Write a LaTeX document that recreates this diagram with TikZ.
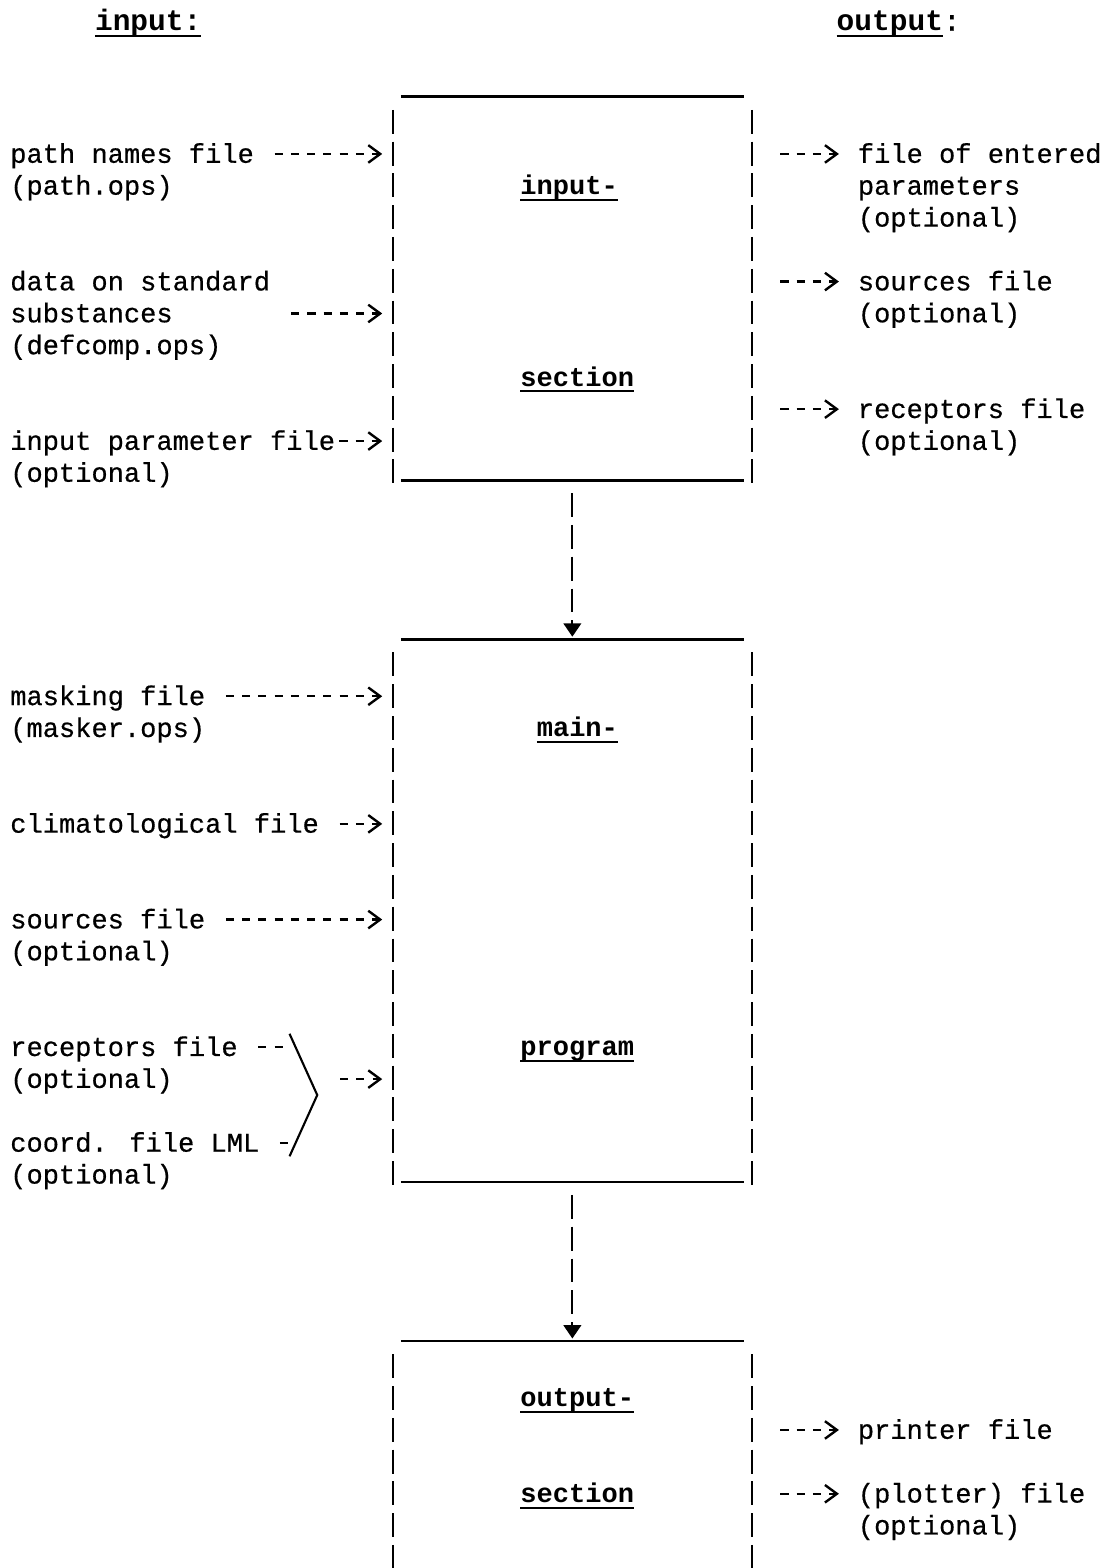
\documentclass[tikz,border=0pt]{standalone}
\usepackage{fontspec}
\setmainfont{Liberation Mono}[UprightFeatures={FakeBold=0.5}]
\usepackage{tikz}
\usetikzlibrary{arrows.meta,positioning,fit,calc}

\newcommand{\boxlabel}[1]{\setbox0\hbox{\bfseries #1}\rlap{\rule[-4.5pt]{\wd0}{1.6pt}}\box0}

\begin{document}
\begin{tikzpicture}[x=0.4075cm,y=-0.7975cm,
  font=\fontsize{19.25}{22.6}\selectfont,
  lbl/.style={anchor=mid west,inner sep=0pt,yshift=-3.6pt},
  ttl/.style={lbl,font=\fontsize{21}{24}\selectfont},
  area/.style={inner sep=0pt,draw=none},
  rim/.style={line width=1.8pt},
  side/.style={line width=1.6pt,dash pattern=on 17pt off 5.61pt},
  feed/.style={line width=1.7pt,dash pattern=on 5.78pt off 5.78pt,
               -{Straight Barb[length=8.5pt,width=12.5pt]}},
  infeed/.style={feed,shorten >=7.5pt},
  outfeed/.style={feed,shorten >=13.3pt},
  tick/.style={line width=1.7pt,dash pattern=on 5.78pt off 5.78pt},
  slash/.style={line width=1.5pt},
  drop/.style={line width=1.6pt,dash pattern=on 17pt off 5.61pt,
               -{Triangle[length=9.5pt,width=12.5pt]},shorten <=5.6pt,shorten >=1.8pt},
]
\useasboundingbox (-0.6135,-4.8276) rectangle (67.055,44.326);

% headings
\node[ttl] (t-in)  at (5.2,-4.14)  {\boxlabel{input:}};
\node[ttl] (t-out) at (50.7,-4.14) {\boxlabel{output}:};

% the three sections
\node[area,fit={(23.5,-1.79) (45.5,10.376)}] (inbox) {};
\node[area,fit={(23.5,15.22) (45.5,32.376)}] (mainbox) {};
\node[area,fit={(23.5,37.22) (45.5,44.5)}]   (outbox) {};
\foreach \b in {inbox,mainbox,outbox} {
  \draw[rim]  ($(\b.north west)+(0.5,0)$) -- ($(\b.north east)+(-0.5,0)$);
  \draw[side] ($(\b.north west)+(0,0.414)$) -- (\b.south west);
  \draw[side] ($(\b.north east)+(0,0.414)$) -- (\b.south east);
}
\foreach \b in {inbox,mainbox}
  \draw[rim] ($(\b.south west)+(0.5,-0.156)$) -- ($(\b.south east)+(-0.5,-0.156)$);

\node[lbl] (b-in1)  at (31.3,1)  {\boxlabel{input-}};
\node[lbl] (b-in2)  at (31.3,7)  {\boxlabel{section}};
\node[lbl] (b-mn1)  at (32.3,18) {\boxlabel{main-}};
\node[lbl] (b-mn2)  at (31.3,28) {\boxlabel{program}};
\node[lbl] (b-out1) at (31.3,39) {\boxlabel{output-}};
\node[lbl] (b-out2) at (31.3,42) {\boxlabel{section}};

\draw[drop] (inbox.south) -- (mainbox.north);
\draw[drop] (mainbox.south) -- (outbox.north);

% inputs
\node[lbl] (l-path)  at (0,0)  {path names file};
\node[lbl] (l-path2) at (0,1)  {(path.ops)};
\node[lbl] (l-data)  at (0,4)  {data on standard};
\node[lbl] (l-subs)  at (0,5)  {substances};
\node[lbl] (l-defc)  at (0,6)  {(defcomp.ops)};
\node[lbl] (l-ipar)  at (0,9)  {input parameter file};
\node[lbl] (l-ipar2) at (0,10) {(optional)};
\node[lbl] (l-mask)  at (0,17) {masking file};
\node[lbl] (l-mask2) at (0,18) {(masker.ops)};
\node[lbl] (l-clim)  at (0,21) {climatological file};
\node[lbl] (l-srcs)  at (0,24) {sources file};
\node[lbl] (l-srcs2) at (0,25) {(optional)};
\node[lbl] (l-rcpt)  at (0,28) {receptors file};
\node[lbl] (l-rcpt2) at (0,29) {(optional)};
\node[lbl] (l-lml)   at (0,31) {coord. file LML};
\node[lbl] (l-lml2)  at (0,32) {(optional)};

\draw[infeed] ($(l-path.mid east)+(1.25,-0.16)$) coordinate (a1) -- (a1 -| inbox.west);
\coordinate (subs-tail) at (17.25,5);
\draw[infeed] (subs-tail) -- (subs-tail -| inbox.west);
\draw[infeed] ($(l-ipar.mid east)+(0.25,-0.16)$) coordinate (a2) -- (a2 -| inbox.west);
\draw[infeed] ($(l-mask.mid east)+(1.25,-0.16)$) coordinate (a3) -- (a3 -| mainbox.west);
\draw[infeed] ($(l-clim.mid east)+(1.25,-0.16)$) coordinate (a4) -- (a4 -| mainbox.west);
\draw[infeed] ($(l-srcs.mid east)+(1.25,-0.16)$) coordinate (a5) -- (a5 -| mainbox.west);

\draw[tick] ($(l-rcpt.mid east)+(1.25,-0.16)$) -- ++(1.5,0);
\draw[tick] ($(l-lml.mid east)+(1.25,-0.16)$) -- ++(0.5,0);
\coordinate (fork) at (18.85,29.5);
\draw[slash] (17.15,27.58) -- (fork) -- (17.15,31.42);
\coordinate (merge) at (20.25,29);
\draw[infeed] (merge) -- (merge -| mainbox.west);

% outputs
\node[lbl] (r-par)  at (52,0)  {file of entered};
\node[lbl] (r-par2) at (52,1)  {parameters};
\node[lbl] (r-par3) at (52,2)  {(optional)};
\node[lbl] (r-src)  at (52,4)  {sources file};
\node[lbl] (r-src2) at (52,5)  {(optional)};
\node[lbl] (r-rec)  at (52,8)  {receptors file};
\node[lbl] (r-rec2) at (52,9)  {(optional)};
\node[lbl] (r-prn)  at (52,40) {printer file};
\node[lbl] (r-plt)  at (52,42) {(plotter) file};
\node[lbl] (r-plt2) at (52,43) {(optional)};

\foreach \o in {r-par,r-src,r-rec}
  \draw[outfeed] ($(\o.mid west -| inbox.east)+(1.75,-0.16)$) -- ($(\o.mid west)+(0,-0.16)$);
\foreach \o in {r-prn,r-plt}
  \draw[outfeed] ($(\o.mid west -| outbox.east)+(1.75,-0.16)$) -- ($(\o.mid west)+(0,-0.16)$);
\end{tikzpicture}
\end{document}
